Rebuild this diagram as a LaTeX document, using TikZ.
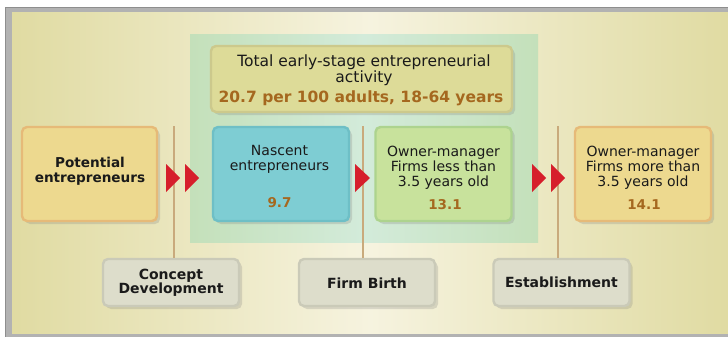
\documentclass[tikz,border=0pt]{standalone}
\usepackage{fontspec}
\setmainfont{DejaVu Sans}
\usetikzlibrary{shadows}
\definecolor{framegray}{HTML}{B2B2B2}
\definecolor{framedark}{HTML}{8E8E8E}
\definecolor{beigeE}{HTML}{E0DBA2}
\definecolor{beigeC}{HTML}{F6F3DF}
\definecolor{greenE}{HTML}{C4E0BA}
\definecolor{greenC}{HTML}{D3EBDA}
\definecolor{tbfill}{HTML}{DDDB98}
\definecolor{tbdraw}{HTML}{CCC98C}
\definecolor{nasfill}{HTML}{7ECDD3}
\definecolor{nasdraw}{HTML}{6EBFC6}
\definecolor{omlfill}{HTML}{C8E29C}
\definecolor{omldraw}{HTML}{ADD38E}
\definecolor{potfill}{HTML}{EDD98F}
\definecolor{potdraw}{HTML}{E6BA78}
\definecolor{gfill}{HTML}{DDDDCB}
\definecolor{gdraw}{HTML}{CACAB8}
\definecolor{numc}{HTML}{A5681F}
\definecolor{arrred}{HTML}{D61E2B}
\definecolor{vline}{HTML}{C9AA7C}
\definecolor{txt}{HTML}{1A1A1A}
\begin{document}
\begin{tikzpicture}[x=1pt,y=-1pt,
  box/.style={draw, line width=2.4pt, rounded corners=5pt, inner sep=0pt,
    drop shadow={opacity=0.25, shadow xshift=3pt, shadow yshift=-3pt}},
  rtxt/.style={font=\fontsize{14}{15}\selectfont, text=txt, align=center, inner sep=0pt},
  ttxt/.style={font=\fontsize{15.5}{17}\selectfont, text=txt, align=center, inner sep=0pt},
  btxt/.style={font=\fontsize{13.6}{15}\selectfont\bfseries, text=txt, align=center, inner sep=0pt},
  ntxt/.style={font=\fontsize{13.5}{15}\selectfont\bfseries, text=numc, align=center, inner sep=0pt},
  tntxt/.style={font=\fontsize{15.5}{17}\selectfont\bfseries, text=numc, align=center, inner sep=0pt},
  stxt/.style={font=\fontsize{14}{14}\selectfont\bfseries, text=txt, align=center, inner sep=0pt},
  conn/.style={draw=vline, line width=1.2pt},
  tri/.style={fill=arrred}
]
\useasboundingbox (0,0) rectangle (728,337);
\fill[white] (0,0) rectangle (728,337);
\fill[framegray, draw=framedark, line width=1pt] (5.5,7.5) rectangle (740,345);
\shade[left color=beigeE, right color=beigeE, middle color=beigeC] (12,13) rectangle (728,333);
% green panel
\shade[left color=greenE, right color=greenE, middle color=greenC] (190,35) rectangle (538,242);

% vertical connectors
\coordinate (v1) at (174,126);
\coordinate (v2) at (363,126);
\coordinate (v3) at (558,126);

% bottom boxes
\node[box, fill=gfill, draw=gdraw, minimum width=136pt, minimum height=47pt] (cd) at (171,282.5) {};
\node[box, fill=gfill, draw=gdraw, minimum width=136pt, minimum height=47pt] (fb) at (367,282.5) {};
\node[box, fill=gfill, draw=gdraw, minimum width=136pt, minimum height=47pt] (es) at (561.5,282.5) {};
\draw[conn] (v1) -- (v1 |- cd.north);
\draw[conn] (v2) -- (v2 |- fb.north);
\draw[conn] (v3) -- (v3 |- es.north);

% top box
\node[box, fill=tbfill, draw=tbdraw, minimum width=301pt, minimum height=66pt] (tb) at (361.5,79) {};
\node[ttxt] (tb1) at (364,62) {Total early-stage entrepreneurial};
\node[ttxt] (tb2) at (364,78) {activity};
\node[tntxt] (tb3) at (361,98) {20.7 per 100 adults, 18-64 years};

% main row
\node[box, fill=potfill, draw=potdraw, minimum width=135pt, minimum height=94pt] (pot) at (89.5,174) {};
\node[btxt] (pott) at (90,171.5) {Potential\\entrepreneurs};

\node[box, fill=nasfill, draw=nasdraw, minimum width=136pt, minimum height=94pt] (nas) at (281,174) {};
\node[rtxt] (nast) at (279.5,159.5) {Nascent\\entrepreneurs};
\node[ntxt] (nasn) at (279.5,203) {9.7};

\node[box, fill=omlfill, draw=omldraw, minimum width=136pt, minimum height=94pt] (oml) at (443.5,174) {};
\node[rtxt] (omlt) at (443.5,167.5) {Owner-manager\\Firms less than\\3.5 years old};
\node[ntxt] (omln) at (445,204.5) {13.1};

\node[box, fill=potfill, draw=potdraw, minimum width=136pt, minimum height=94pt] (omm) at (643,174) {};
\node[rtxt] (ommt) at (643,167.5) {Owner-manager\\Firms more than\\3.5 years old};
\node[ntxt] (ommn) at (644,204.5) {14.1};

% bottom labels
\node[stxt] (cdt) at (171,283) {Concept\\Development};
\node[stxt] (fbt) at (367,283) {Firm Birth};
\node[stxt] (est) at (561.5,282) {Establishment};

% red triangles
\fill[tri] (166,164) -- (180,178) -- (166,192) -- cycle;
\fill[tri] (185,164) -- (199,178) -- (185,192) -- cycle;
\fill[tri] (355,164) -- (370,178) -- (355,192) -- cycle;
\fill[tri] (532,164) -- (546,178) -- (532,192) -- cycle;
\fill[tri] (551,164) -- (565,178) -- (551,192) -- cycle;
\end{tikzpicture}
\end{document}
